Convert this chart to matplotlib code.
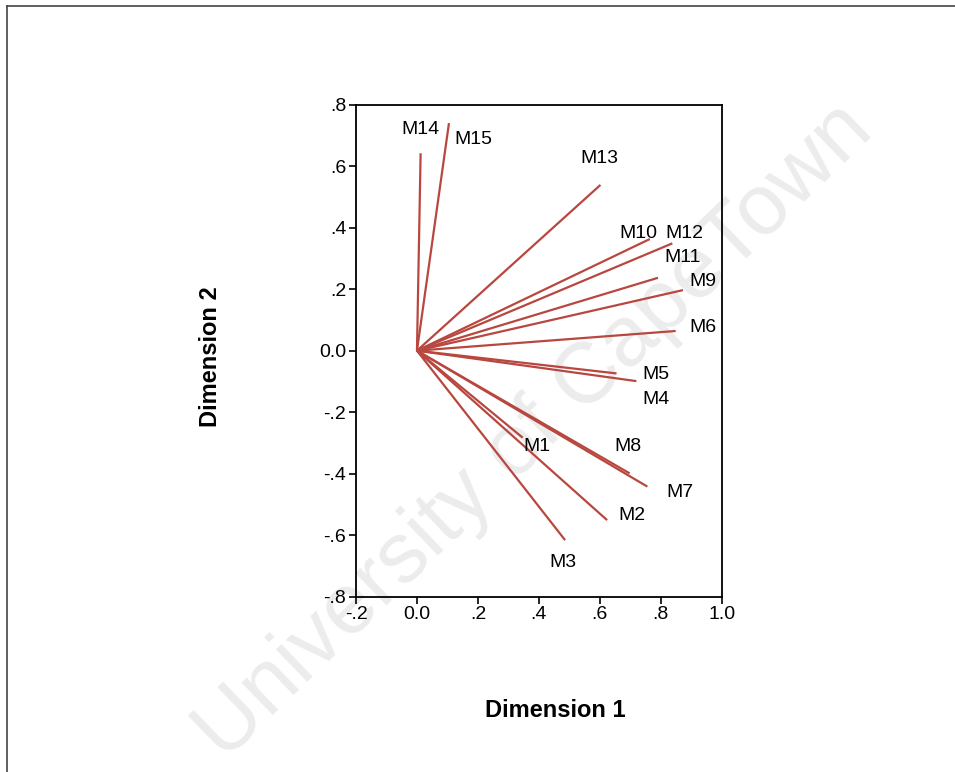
import matplotlib.pyplot as plt
from matplotlib.lines import Line2D

plt.rcParams['font.family'] = ['Liberation Sans', 'DejaVu Sans']

# loadings (dimension 1, dimension 2) for each variable
names = ['M1', 'M2', 'M3', 'M4', 'M5', 'M6', 'M7', 'M8',
         'M9', 'M10', 'M11', 'M12', 'M13', 'M14', 'M15']
dim1 = [0.347, 0.624, 0.486, 0.720, 0.655, 0.849, 0.756, 0.698,
        0.873, 0.764, 0.791, 0.838, 0.602, 0.012, 0.105]
dim2 = [-0.283, -0.551, -0.616, -0.099, -0.074, 0.064, -0.442, -0.399,
        0.197, 0.363, 0.237, 0.349, 0.539, 0.642, 0.740]

# label anchor points
lab_x = [0.394, 0.707, 0.480, 0.784, 0.784, 0.939, 0.862, 0.693,
         0.939, 0.726, 0.873, 0.879, 0.600, 0.010, 0.185]
lab_y = [-0.310, -0.537, -0.689, -0.158, -0.077, 0.075, -0.460, -0.312,
         0.224, 0.382, 0.302, 0.382, 0.626, 0.720, 0.687]

xticks = [-0.2, 0.0, 0.2, 0.4, 0.6, 0.8, 1.0]
xticklabels = ['-.2', '0.0', '.2', '.4', '.6', '.8', '1.0']
yticks = [-0.8, -0.6, -0.4, -0.2, 0.0, 0.2, 0.4, 0.6, 0.8]
yticklabels = ['-.8', '-.6', '-.4', '-.2', '0.0', '.2', '.4', '.6', '.8']

fig = plt.figure(figsize=(9.55, 7.72), dpi=100)

# watermark, kept behind the chart
fig.text(0.56, 0.44, 'University of CapeTown', fontsize=62, color='#ececec',
         rotation=44, ha='center', va='center', zorder=-5)

# page border
fig.add_artist(Line2D([0.007, 1.0], [0.992, 0.992], color='#444444', lw=1.2))
fig.add_artist(Line2D([0.007, 0.007], [0.0, 0.992], color='#444444', lw=1.2))

ax = fig.add_axes([0.3728, 0.2271, 0.3829, 0.6373])
ax.patch.set_alpha(0)
ax.set_zorder(2)

for x, y in zip(dim1, dim2):
    ax.plot([0, x], [0, y], color='#b8473f', lw=1.6, solid_capstyle='butt')

for n, x, y in zip(names, lab_x, lab_y):
    ax.text(x, y, n, fontsize=14, ha='center', va='center', color='black')

ax.set_xlim(-0.2, 1.0)
ax.set_ylim(-0.8, 0.8)
ax.set_xticks(xticks)
ax.set_xticklabels(xticklabels)
ax.set_yticks(yticks)
ax.set_yticklabels(yticklabels)
ax.tick_params(direction='out', length=5, width=1.2, labelsize=14, pad=2)
for s in ax.spines.values():
    s.set_linewidth(1.3)

fig.text(0.22, 0.5376, 'Dimension 2', fontsize=17, fontweight='bold',
         rotation=90, ha='center', va='center')
fig.text(0.581, 0.0803, 'Dimension 1', fontsize=17, fontweight='bold',
         ha='center', va='center')

fig.savefig('out.png', dpi=100)
